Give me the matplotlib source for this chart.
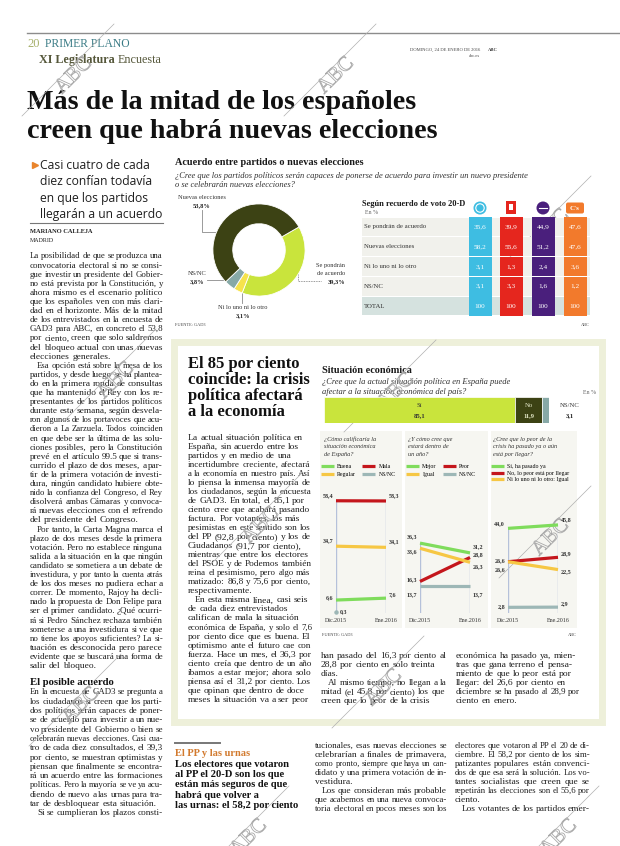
import numpy as np
import matplotlib
matplotlib.use('Agg')
import matplotlib.pyplot as plt
import matplotlib.patheffects as pe
from matplotlib.font_manager import FontProperties
from matplotlib.patches import Rectangle, FancyBboxPatch, Circle

# ---------------- data ----------------
donut_labels = ['Se pondrán de acuerdo', 'Ni lo uno ni lo otro', 'NS/NC', 'Nuevas elecciones']
donut_values = [39.3, 3.1, 3.8, 53.8]

table_rows = ['Se pondrán de acuerdo', 'Nuevas elecciones', 'Ni lo uno ni lo otro', 'NS/NC', 'TOTAL']
parties = ['PP', 'PSOE', 'Podemos', "C's"]
pp_vals = [35.6, 58.2, 3.1, 3.1, 100]
psoe_vals = [39.9, 55.6, 1.3, 3.3, 100]
podemos_vals = [44.9, 51.2, 2.4, 1.6, 100]
cs_vals = [47.6, 47.6, 3.6, 1.2, 100]

afecta_labels = ['Sí', 'No', 'NS/NC']
afecta_values = [85.1, 11.9, 3.1]

dates = ['Dic.2015', 'Ene.2016']
buena = [6.6, 7.6]
mala = [58.4, 58.3]
regular = [34.7, 34.1]
nsnc_1 = [0.3, np.nan]
mejor = [36.3, 31.2]
peor = [16.3, 28.8]
igual = [33.6, 26.3]
nsnc_2 = [13.7, 13.7]
si_pasado = [44.0, 45.8]
no_llegar = [26.6, 28.9]
ni_igual = [26.6, 22.5]
nsnc_3 = [2.8, 2.9]

# ---------------- setup ----------------
W, H = 620, 846
fig = plt.figure(figsize=(W / 100, H / 100), dpi=100)
fig.patch.set_facecolor('white')
bg = fig.add_axes([0, 0, 1, 1], zorder=0)
bg.set_xlim(0, W); bg.set_ylim(H, 0); bg.axis('off')
R = fig.canvas.get_renderer()

SERIF = 'Liberation Serif'
SANS = 'Open Sans'
INK = '#1b1b1b'
BODY = '#1f1f1f'
GREEN = '#7fdc5c'; RED = '#c4161c'; YELLOW = '#f6c744'; GREY = '#9db7b6'
LIME = '#c9e43c'; DARK = '#3c4214'; TEAL = '#87a9a7'; PALEY = '#f6e34c'


def fprop(size, family=SERIF, weight='normal', style='normal'):
    return FontProperties(family=family, size=size, weight=weight, style=style)


def tw(s, fp):
    return R.get_text_width_height_descent(s, fp, ismath=False)[0]


def txt(x, y, s, size, family=SERIF, weight='normal', style='normal', color=INK,
        ha='left', va='baseline', ax=None, **kw):
    a = ax if ax is not None else bg
    return a.text(x, y, s, fontproperties=fprop(size, family, weight, style),
                  color=color, ha=ha, va=va, **kw)


def fit(s, width, family=SERIF, weight='normal', style='normal'):
    return 10 * width / tw(s, fprop(10, family, weight, style))


def axes_px(x0, y0, x1, y1, **kw):
    return fig.add_axes([x0 / W, 1 - y1 / H, (x1 - x0) / W, (y1 - y0) / H], **kw)


def fmt(v):
    return '100' if v == 100 else f'{v:.1f}'.replace('.', ',')


def block(x, y, width, paras, size, lh, justify=True, indent=7, first_indent=False,
          cont=False, color=BODY, family=SERIF):
    fp = fprop(size, family)
    sp = tw('n n', fp) - tw('nn', fp)
    for pi, para in enumerate(paras):
        for li, line in enumerate(para):
            ind = indent if (li == 0 and (pi > 0 or first_indent)) else 0
            is_last = (li == len(para) - 1) and not (cont and pi == len(paras) - 1)
            words = line.split()
            f = fp
            ws = [tw(w, f) for w in words]
            avail = width - ind
            nat = sum(ws) + sp * 0.8 * (len(words) - 1)
            spl = sp
            if nat > avail:
                f = fprop(size * avail / nat, family)
                ws = [tw(w, f) for w in words]
                spl = tw('n n', f) - tw('nn', f)
            if justify and not is_last and len(words) > 1:
                gap = (avail - sum(ws)) / (len(words) - 1)
            else:
                gap = spl
            xx = x + ind
            for w, wd in zip(words, ws):
                bg.text(xx, y, w, fontproperties=f, color=color, ha='left', va='baseline')
                xx += wd + gap
            y += lh
    return y


# ---------------- header ----------------
bg.plot([27, 620], [33, 33], color='#8c8c8c', lw=1.0)
txt(27, 47, '20', 9, color='#a7b06c')
txt(45, 47, 'PRIMER PLANO', fit('PRIMER PLANO', 85), color='#3b7c86')
s_xi = fit('XI Legislatura', 76, weight='bold')
txt(39, 63, 'XI Legislatura', s_xi, weight='bold', color='#55573a')
txt(118, 63, 'Encuesta', s_xi, color='#55573a')
txt(480, 51, 'DOMINGO, 24 DE ENERO DE 2016', 3.3, ha='right', color='#444')
txt(488, 51, 'ABC', 3.3, weight='bold', color='#444')
txt(480, 57, 'abc.es', 3.3, ha='right', color='#444')

h1 = 'Más de la mitad de los españoles'
h2 = 'creen que habrá nuevas elecciones'
hs = fit(h1, 390, weight='bold')
txt(27, 109, h1, hs, weight='bold', color='#111')
txt(27, 138, h2, hs, weight='bold', color='#111')

# ---------------- left column ----------------
bg.plot([35], [165], marker='>', color='#e9842c', markersize=4.5)
sub = ['Casi cuatro de cada', 'diez confían todavía', 'en que los partidos', 'llegarán a un acuerdo']
ss = fit('llegarán a un acuerdo', 123, family=SANS)
for i, l in enumerate(sub):
    txt(40, 169 + 16.3 * i, l, ss, family=SANS, color='#1f1f1f')
bg.plot([30, 163], [223, 223], color='#777', lw=0.8)
txt(30, 233, 'MARIANO CALLEJA', 4.6, weight='bold', color='#222')
txt(30, 241.5, 'MADRID', 4.3, color='#222')

left_paras = [
    ["La posibilidad de que se produzca una", "convocatoria electoral si no se consi-",
     "gue investir un presidente del Gobier-", "no está prevista por la Constitución, y",
     "ahora mismo es el escenario político", "que los españoles ven con más clari-",
     "dad en el horizonte. Más de la mitad", "de los entrevistados en la encuesta de",
     "GAD3 para ABC, en concreto el 53,8", "por ciento, creen que solo saldremos",
     "del bloqueo actual con unas nuevas", "elecciones generales."],
    ["Esa opción está sobre la mesa de los", "partidos, y desde luego se ha plantea-",
     "do en la primera ronda de consultas", "que ha mantenido el Rey con los re-",
     "presentantes de los partidos políticos", "durante esta semana, según desvela-",
     "ron algunos de los portavoces que acu-", "dieron a La Zarzuela. Todos coinciden",
     "en que debe ser la última de las solu-", "ciones posibles, pero la Constitución",
     "prevé en el artículo 99.5 que si trans-", "currido el plazo de dos meses, a par-",
     "tir de la primera votación de investi-", "dura, ningún candidato hubiere obte-",
     "nido la confianza del Congreso, el Rey", "disolverá ambas Cámaras y convoca-",
     "rá nuevas elecciones con el refrendo", "del presidente del Congreso."],
    ["Por tanto, la Carta Magna marca el", "plazo de dos meses desde la primera",
     "votación. Pero no establece ninguna", "salida a la situación en la que ningún",
     "candidato se sometiera a un debate de", "investidura, y por tanto la cuenta atrás",
     "de los dos meses no pudiera echar a", "correr. De momento, Rajoy ha decli-",
     "nado la propuesta de Don Felipe para", "ser el primer candidato. ¿Qué ocurri-",
     "rá si Pedro Sánchez rechaza también", "someterse a una investidura si ve que",
     "no tiene los apoyos suficientes? La si-", "tuación es desconocida pero parece",
     "evidente que se buscará una forma de", "salir del bloqueo."],
]
BS = 6.8
LH = 9.1
block(30, 258.5, 133, left_paras, BS, LH)
txt(30, 685, 'El posible acuerdo', fit('El posible acuerdo', 84, weight='bold'), weight='bold', color='#111')
left_paras2 = [
    ["En la encuesta de GAD3 se pregunta a", "los ciudadanos si creen que los parti-",
     "dos políticos serán capaces de poner-", "se de acuerdo para investir a un nue-",
     "vo presidente del Gobierno o bien se", "celebrarán nuevas elecciones. Casi cua-",
     "tro de cada diez consultados, el 39,3", "por ciento, se muestran optimistas y",
     "piensan que finalmente se encontra-", "rá un acuerdo entre las formaciones",
     "políticas. Pero la mayoría se ve ya acu-", "diendo de nuevo a las urnas para tra-",
     "tar de desbloquear esta situación."],
    ["Si se cumplieran los plazos consti-"],
]
block(30, 694.5, 133, left_paras2, BS, 9.3, cont=True)

# ---------------- top chart: donut ----------------
ts = fit('Acuerdo entre partidos o nuevas elecciones', 188, weight='bold')
txt(175, 165, 'Acuerdo entre partidos o nuevas elecciones', ts, weight='bold', color='#1a1a1a')
q1 = '¿Cree que los partidos políticos serán capaces de ponerse de acuerdo para investir un nuevo presidente'
qs = fit(q1, 353, style='italic')
txt(175, 178, q1, qs, style='italic', color='#333')
txt(175, 187, 'o se celebrarán nuevas elecciones?', qs, style='italic', color='#333')

dax = axes_px(212, 203, 306, 297)
dax.pie(donut_values, colors=[LIME, PALEY, TEAL, DARK], startangle=30, counterclock=False,
        radius=1, wedgeprops=dict(width=0.43, edgecolor='white', linewidth=0.6))
dax.set_xlim(-1.02, 1.02); dax.set_ylim(-1.02, 1.02); dax.set_aspect('equal')

LS = 4.6
lab = dict(zip(donut_labels, donut_values))
txt(202, 199, 'Nuevas elecciones', LS, ha='center', color='#333')
txt(202, 207.5, fmt(lab['Nuevas elecciones']) + '%', LS, weight='bold', ha='center', color='#222')
bg.plot([202, 202, 229], [210, 232, 232], color='#8a8a8a', lw=0.6)
txt(197, 275, 'NS/NC', LS, ha='center', color='#333')
txt(197, 283, fmt(lab['NS/NC']) + '%', LS, weight='bold', ha='center', color='#222')
bg.plot([207, 234], [280.5, 280.5], color='#8a8a8a', lw=0.6)
txt(243, 309, 'Ni lo uno ni lo otro', LS, ha='center', color='#333')
txt(243, 317, fmt(lab['Ni lo uno ni lo otro']) + '%', LS, weight='bold', ha='center', color='#222')
bg.plot([242, 242], [290, 303], color='#8a8a8a', lw=0.6)
txt(345, 267, 'Se pondrán', LS, ha='right', color='#333')
txt(345, 275, 'de acuerdo', LS, ha='right', color='#333')
txt(345, 283.5, fmt(lab['Se pondrán de acuerdo']) + '%', LS, weight='bold', ha='right', color='#222')
bg.plot([298, 298, 321], [250, 281, 281], color='#777', lw=0.6, ls=(0, (1, 1)))
txt(175, 326, 'FUENTE: GAD3', 3.2, color='#444')
txt(590, 326, 'ABC', 3.2, ha='right', color='#444')

# ---------------- table ----------------
txt(362, 206, 'Según recuerdo de voto 20-D', fit('Según recuerdo de voto 20-D', 103, weight='bold'),
    weight='bold', color='#1a1a1a')
txt(365, 214.5, 'En %', 4.2, color='#666')
tax = axes_px(362, 217, 590, 316)
tax.set_xlim(362, 590); tax.set_ylim(len(table_rows), 0); tax.axis('off')
col_x = [480, 511, 543, 575]
pcols = ['#3ebde2', '#e5261e', '#4a1f7c', '#f27a2c']
for i, r in enumerate(table_rows):
    tax.barh(i + 0.5, 590 - 362, left=362, height=0.94,
             color='#d5e2df' if r == 'TOTAL' else '#f1f1ec')
    tax.text(364, i + 0.5, r, fontproperties=fprop(4.9), color='#333', ha='left', va='center')
for j, vals in enumerate([pp_vals, psoe_vals, podemos_vals, cs_vals]):
    tax.bar([col_x[j]] * len(vals), [0.97] * len(vals), bottom=np.arange(len(vals)) + 0.015,
            width=23, color=pcols[j])
    for i, v in enumerate(vals):
        tax.text(col_x[j], i + 0.5, fmt(v), fontproperties=fprop(5.2), color='white',
                 ha='center', va='center')
# party logos
bg.add_patch(Circle((col_x[0], 208), 6.5, fc=pcols[0], ec='none'))
bg.add_patch(Circle((col_x[0], 208), 4.2, fc='none', ec='white', lw=0.8))
bg.add_patch(Rectangle((col_x[1] - 5, 201.5), 10, 13, fc=pcols[1], ec='none'))
bg.add_patch(Rectangle((col_x[1] - 2, 204.5), 4, 6, fc='white', ec='none'))
bg.add_patch(Circle((col_x[2], 208), 6.5, fc=pcols[2], ec='none'))
bg.plot([col_x[2] - 4, col_x[2] + 4], [208, 208], color='white', lw=0.8)
bg.add_patch(FancyBboxPatch((col_x[3] - 9, 202.5), 18, 11, boxstyle='round,pad=0,rounding_size=2',
                            fc=pcols[3], ec='none'))
txt(col_x[3], 208.3, "C's", 5, weight='bold', color='white', ha='center', va='center')

# ---------------- boxed feature ----------------
bg.add_patch(Rectangle((174, 342), 428, 380, fc='white', ec='#eef0da', lw=5))
bh = ['El 85 por ciento', 'coincide: la crisis', 'política afectará', 'a la economía']
bhs = fit('coincide: la crisis', 122, weight='bold')
for i, l in enumerate(bh):
    txt(188, 368 + 16 * i, l, bhs, weight='bold', color='#111')
box_paras = [
    ["La actual situación política en", "España, sin acuerdo entre los", "partidos y en medio de una",
     "incertidumbre creciente, afectará", "a la economía en nuestro país. Así",
     "lo piensa la inmensa mayoría de", "los ciudadanos, según la encuesta",
     "de GAD3. En total, el 85,1 por", "ciento cree que acabará pasando",
     "factura. Por votantes, los más", "pesimistas en este sentido son los",
     "del PP (92,8 por ciento) y los de", "Ciudadanos (91,7 por ciento),",
     "mientras que entre los electores", "del PSOE y de Podemos también",
     "reina el pesimismo, pero algo más", "matizado: 86,8 y 75,6 por ciento,",
     "respectivamente."],
    ["En esta misma línea, casi seis", "de cada diez entrevistados", "califican de mala la situación",
     "económica de España, y solo el 7,6", "por ciento dice que es buena. El",
     "optimismo ante el futuro cae con", "fuerza. Hace un mes, el 36,3 por",
     "ciento creía que dentro de un año", "íbamos a estar mejor; ahora solo",
     "piensa así el 31,2 por ciento. Los", "que opinan que dentro de doce",
     "meses la situación va a ser peor"],
]
block(188, 439.5, 121, box_paras, BS, 9.05, justify=False)

ra = [["han pasado del 16,3 por ciento al", "28,8 por ciento en solo treinta", "días."],
      ["Al mismo tiempo, no llegan a la", "mitad (el 45,8 por ciento) los que",
       "creen que lo peor de la crisis"]]
rb = [["económica ha pasado ya, mien-", "tras que gana terreno el pensa-",
       "miento de que lo peor está por", "llegar: del 26,6 por ciento en",
       "diciembre se ha pasado al 28,9 por", "ciento en enero."]]
block(321, 657.5, 122, ra, BS, 9.05, justify=False)
block(456, 657.5, 122, rb, BS, 9.05, justify=False)

# situación económica
txt(322, 373, 'Situación económica', ts, weight='bold', color='#1a1a1a')
txt(322, 384.5, '¿Cree que la actual situación política en España puede', qs, style='italic', color='#333')
txt(322, 393.5, 'afectar a la situación económica del país?', qs, style='italic', color='#333')
txt(596, 393.5, 'En %', 4.2, ha='right', color='#666')

bax = axes_px(324, 397, 549, 423)
leftv = 0
bcols = [LIME, DARK, TEAL]
tcols = ['#333', '#e4e8c8', '#222']
for k, (lb, v, c) in enumerate(zip(afecta_labels, afecta_values, bcols)):
    bax.barh(0, v, left=leftv, height=1, color=c, edgecolor='white', linewidth=0.5)
    if k < 2:
        bax.text(leftv + v / 2, 0.17, lb, fontproperties=fprop(4.8), color=tcols[k], ha='center', va='center')
        bax.text(leftv + v / 2, -0.2, fmt(v), fontproperties=fprop(4.8, weight='bold'), color=tcols[k],
                 ha='center', va='center')
    else:
        bax.annotate(lb, xy=(leftv + v, 0.17), xycoords='data', xytext=(21, 0), textcoords='offset pixels',
                     fontproperties=fprop(4.8), color='#333', ha='center', va='center', annotation_clip=False)
        bax.annotate(fmt(v), xy=(leftv + v, -0.2), xycoords='data', xytext=(21, 0), textcoords='offset pixels',
                     fontproperties=fprop(4.8, weight='bold'), color='#222', ha='center', va='center',
                     annotation_clip=False)
    leftv += v
bax.set_xlim(0, leftv); bax.set_ylim(-0.5, 0.5); bax.axis('off')

# small panels
panel_px = [(320, 402), (405, 488), (491, 577)]
for (a, b) in panel_px:
    bg.add_patch(Rectangle((a, 431), b - a, 197, fc='#f6f6f1', ec='none'))
questions = [['¿Cómo calificaría la', 'situación económica', 'de España?'],
             ['¿Y cómo cree que', 'estará dentro de', 'un año?'],
             ['¿Cree que lo peor de la', 'crisis ha pasado ya o aún', 'está por llegar?']]
qx = [324, 408, 493]
for qq, x in zip(questions, qx):
    for i, l in enumerate(qq):
        txt(x, 440.5 + 7.8 * i, l, 4.5, style='italic', color='#333')

panels = [
    dict(x=(336, 386),
         series=[('Buena', buena, GREEN), ('Mala', mala, RED), ('Regular', regular, YELLOW),
                 ('NS/NC', nsnc_1, GREY)],
         order=['Buena', 'Regular', 'Mala', 'NS/NC'], ncol=2, leg=(321, 464),
         offs={('Mala', 0): 5, ('Mala', 1): 5, ('Regular', 0): 6, ('Regular', 1): 5.5,
               ('Buena', 0): 2.5, ('Buena', 1): 3.5, ('NS/NC', 0): 0}),
    dict(x=(420, 470),
         series=[('Mejor', mejor, GREEN), ('Peor', peor, RED), ('Igual', igual, YELLOW),
                 ('NS/NC', nsnc_2, GREY)],
         order=['Mejor', 'Igual', 'Peor', 'NS/NC'], ncol=2, leg=(406, 464),
         offs={('Mejor', 0): 6.5, ('Igual', 0): -3.5, ('Peor', 0): 1.5, ('NS/NC', 0): -8,
               ('Mejor', 1): 6, ('Peor', 1): 2.5, ('Igual', 1): -4.5, ('NS/NC', 1): -8}),
    dict(x=(508, 558),
         series=[('Sí, ha pasado ya', si_pasado, GREEN), ('No, lo peor está por llegar', no_llegar, RED),
                 ('Ni lo uno ni lo otro: Igual', ni_igual, YELLOW), ('NS/NC', nsnc_3, GREY)],
         order=['Sí, ha pasado ya', 'No, lo peor está por llegar', 'Ni lo uno ni lo otro: Igual'],
         ncol=1, leg=(491, 464),
         offs={('Sí, ha pasado ya', 0): 5, ('No, lo peor está por llegar', 0): 1,
               ('Ni lo uno ni lo otro: Igual', 0): -8, ('NS/NC', 0): 0.5,
               ('Sí, ha pasado ya', 1): 5, ('No, lo peor está por llegar', 1): 4,
               ('Ni lo uno ni lo otro: Igual', 1): -2, ('NS/NC', 1): 4}),
]
Y0, Y60 = 612.7, 497.7
for p in panels:
    ax = axes_px(p['x'][0], Y60, p['x'][1], Y0)
    ax.set_xlim(0, 1); ax.set_ylim(0, 60); ax.axis('off')
    ax.patch.set_alpha(0)
    for k in range(2):
        top = np.nanmax([s[1][k] for s in p['series']])
        ax.vlines(k, -2, top, color='#b5c1da', lw=1.0, zorder=1)
        ax.text(k, -4.3, dates[k], fontproperties=fprop(4.3), color='#333', ha='center', va='center')
    handles = {}
    for name, vals, c in p['series']:
        ln, = ax.plot([0, 1], vals, color=c, lw=2.3, solid_capstyle='butt', zorder=3, clip_on=False)
        handles[name] = ln
        if np.isnan(vals[1]):
            ax.plot([0], [vals[0]], marker='o', ms=2.2, color=c, zorder=3, clip_on=False)
        for k in range(2):
            if np.isnan(vals[k]):
                continue
            dy = p['offs'].get((name, k), 4)
            if name == 'NS/NC' and np.isnan(vals[1]):
                ax.annotate(fmt(vals[k]), xy=(k, vals[k]), xytext=(4, 1), textcoords='offset pixels',
                            fontproperties=fprop(4.3, weight='bold'), color='#333', ha='left', va='center',
                            annotation_clip=False)
                continue
            ax.annotate(fmt(vals[k]), xy=(k, vals[k]), xytext=(-3 if k == 0 else 3, dy),
                        textcoords='offset pixels', fontproperties=fprop(4.3, weight='bold'),
                        color='#333', ha='right' if k == 0 else 'left', va='center', annotation_clip=False)
    fig.legend([handles[o] for o in p['order']], p['order'], ncol=p['ncol'], loc='upper left',
               bbox_to_anchor=(p['leg'][0] / W, 1 - p['leg'][1] / H), frameon=False,
               prop=fprop(4.2), handlelength=2.3, handletextpad=0.5, columnspacing=1.0,
               labelspacing=0.55 if p['ncol'] == 2 else 0.25, borderpad=0, borderaxespad=0)

txt(322, 636, 'FUENTE: GAD3', 3.2, color='#444')
txt(577, 636, 'ABC', 3.2, ha='right', color='#444')

# ---------------- bottom ----------------
bg.plot([175, 220], [743, 743], color='#777', lw=1.4)
txt(175, 756, 'El PP y las urnas', fit('El PP y las urnas', 75, weight='bold'), weight='bold', color='#d27a2e')
bl = ['Los electores que votaron', 'al PP el 20-D son los que', 'están más seguros de que',
      'habrá que volver a', 'las urnas: el 58,2 por ciento']
bls = fit('las urnas: el 58,2 por ciento', 124, weight='bold')
for i, l in enumerate(bl):
    txt(175, 767 + 10.2 * i, l, bls, weight='bold', color='#111')
ca = [["tucionales, esas nuevas elecciones se", "celebrarían a finales de primavera,",
       "como pronto, siempre que haya un can-", "didato y una primera votación de in-",
       "vestidura."],
      ["Los que consideran más probable", "que acabemos en una nueva convoca-",
       "toria electoral en pocos meses son los"]]
cb = [["electores que votaron al PP el 20 de di-", "ciembre. El 58,2 por ciento de los sim-",
       "patizantes populares están convenci-", "dos de que esa será la solución. Los vo-",
       "tantes socialistas que creen que se", "repetirán las elecciones son el 55,6 por",
       "ciento."],
      ["Los votantes de los partidos emer-"]]
block(315, 747.5, 132, ca, BS, 9.1, cont=True)
block(455, 747.5, 135, cb, BS, 9.1, cont=True)

# ---------------- ABC watermarks ----------------
wm = [(68, 70), (330, 70), (545, 222), (390, 386), (110, 375), (255, 520), (545, 532),
      (75, 700), (378, 682), (243, 832), (553, 832)]
for cx, cy in wm:
    bg.plot([cx - 46, cx + 46], [cy + 46, cy - 46], color='#b0b0b0', lw=0.5, zorder=5)
    t = bg.text(cx + 6, cy + 6, 'ABC', fontproperties=fprop(15), rotation=45, color='none',
                ha='center', va='center', rotation_mode='anchor', zorder=5)
    t.set_path_effects([pe.Stroke(linewidth=0.6, foreground='#a8a8a8')])

fig.savefig('out.png', dpi=100, facecolor='white')
